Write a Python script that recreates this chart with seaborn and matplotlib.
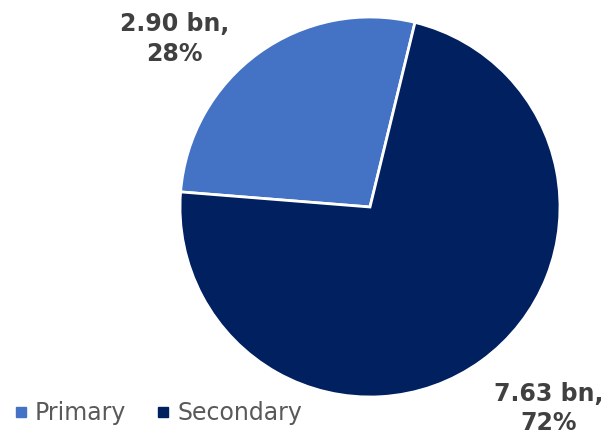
import matplotlib
matplotlib.use("Agg")
import matplotlib.pyplot as plt
import seaborn as sns
from matplotlib.lines import Line2D

sns.set_theme(style="white")
plt.rcParams["font.family"] = ["DejaVu Sans"]

categories = ["Primary", "Secondary"]
values_bn = [2.90, 7.63]
shares_pct = [28, 72]
colors = ["#4472C4", "#002060"]

fig = plt.figure(figsize=(6.05, 4.34), dpi=100)
W, H = 605, 434
cx, cy, r = 370, 207, 190
ax = fig.add_axes([(cx - r) / W, (H - cy - r) / H, 2 * r / W, 2 * r / H])

ax.pie(values_bn, colors=colors, startangle=76.3, counterclock=True,
       radius=1.0, center=(0, 0), frame=False,
       wedgeprops=dict(edgecolor="white", linewidth=2.0))
ax.set_xlim(-1, 1)
ax.set_ylim(-1, 1)
ax.axis("off")

label_pos = [(-1.03, 0.885), (0.94, -1.06)]
for (x, y), v, p in zip(label_pos, values_bn, shares_pct):
    ax.text(x, y, f"{v:.2f} bn,\n{p}%", ha="center", va="center",
            fontsize=17, fontweight="bold", color="#404040",
            linespacing=1.3, clip_on=False)

handles = [Line2D([0], [0], marker="s", linestyle="", markersize=7.5,
                  markerfacecolor=c, markeredgecolor=c) for c in colors]
fig.legend(handles, categories, loc="lower left", bbox_to_anchor=(-0.022, -0.028),
           ncol=2, frameon=False, fontsize=17, handletextpad=0.05,
           handlelength=1.1, columnspacing=1.0, labelcolor="#595959")

fig.savefig("out.png", dpi=100)
